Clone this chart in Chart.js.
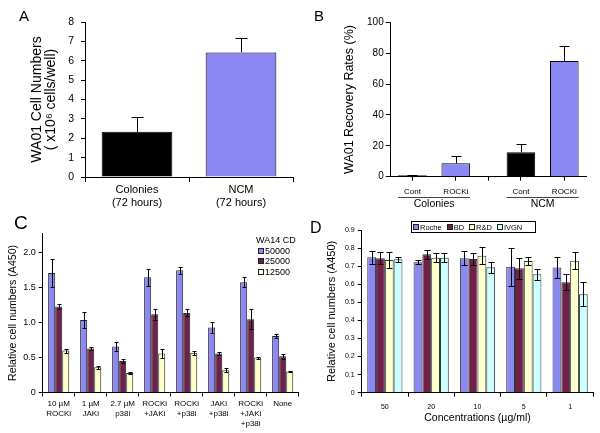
<!DOCTYPE html>
<html>
<head>
<meta charset="utf-8">
<script src="https://cdn.jsdelivr.net/npm/chart.js@4.4.1/dist/chart.umd.min.js"></script>
<style>
  body { margin: 0; background: #fff; }
  #fig { position: relative; width: 600px; height: 433px; overflow: hidden; font-family: 'Liberation Sans', Arial, sans-serif; color: #000; }
  canvas { position: absolute; }
  .letra { position: absolute; line-height: 1; }
  #legenda-c { position: absolute; left: 256px; top: 235px; font-size: 9px; line-height: 10.5px; }
  #legenda-c .item { display: flex; align-items: center; padding-left: 2px; }
  #legenda-d { position: absolute; left: 411px; top: 221px; width: 122px; height: 10px; border: 1px solid #000;
               font-size: 7.5px; display: flex; align-items: center; padding-left: 1px; }
  #legenda-d .item { display: flex; align-items: center; margin-right: 5px; }
  .caixa { display: inline-block; width: 4px; height: 4px; border: 1px solid #222; margin-right: 1px; }
</style>
</head>
<body>
<div id="fig">
  <canvas id="grafico-a" width="300" height="215" style="left:0;top:0"></canvas>
  <canvas id="grafico-b" width="300" height="215" style="left:300px;top:0"></canvas>
  <canvas id="grafico-c" width="300" height="218" style="left:0;top:215px"></canvas>
  <canvas id="grafico-d" width="300" height="218" style="left:300px;top:215px"></canvas>
  <div class="letra" style="left:19px;top:8px;font-size:15px">A</div>
  <div class="letra" style="left:314px;top:8px;font-size:15px">B</div>
  <div class="letra" style="left:14px;top:213px;font-size:19px">C</div>
  <div class="letra" style="left:310px;top:220px;font-size:16px">D</div>
  <div id="legenda-c"><div>WA14 CD</div></div>
  <div id="legenda-d"></div>
</div>
<script>
// ---- dados ----
const aCategorias = [["Colonies", "(72 hours)"], ["NCM", "(72 hours)"]];
const aValores = [2.33, 6.43];
const aErros = [0.75, 0.76];

const bTratamentos = ["Cont", "ROCKi", "Cont", "ROCKi"];
const bGrupos = ["Colonies", "Colonies", "NCM", "NCM"];
const bValores = [0.9, 8.7, 15.8, 74.9];
const bErros = [0.4, 4.7, 5.2, 9.9];

const cTratamentos = [["10 µM", "ROCKi"], ["1 µM", "JAKi"], ["2.7 µM", "p38i"], ["ROCKi", "+JAKi"],
                      ["ROCKi", "+p38i"], ["JAKi", "+p38i"], ["ROCKi", "+JAKi", "+p38i"], ["None"]];
const c50000 = [1.71, 1.04, 0.66, 1.65, 1.75, 0.93, 1.58, 0.81];
const c50000Erro = [0.2, 0.12, 0.06, 0.12, 0.05, 0.08, 0.07, 0.03];
const c25000 = [1.23, 0.63, 0.45, 1.12, 1.14, 0.56, 1.05, 0.52];
const c25000Erro = [0.04, 0.025, 0.03, 0.08, 0.05, 0.02, 0.14, 0.035];
const c12500 = [0.6, 0.36, 0.28, 0.56, 0.57, 0.32, 0.5, 0.3];
const c12500Erro = [0.03, 0.025, 0.01, 0.06, 0.03, 0.03, 0.015, 0.01];

const dConcentracoes = ["50", "20", "10", "5", "1"];
const dRoche = [0.749, 0.722, 0.744, 0.697, 0.692];
const dRocheErro = [0.037, 0.012, 0.04, 0.105, 0.057];
const dBD = [0.744, 0.766, 0.74, 0.688, 0.611];
const dBDErro = [0.033, 0.024, 0.032, 0.059, 0.044];
const dRD = [0.734, 0.747, 0.758, 0.729, 0.73];
const dRDErro = [0.046, 0.024, 0.047, 0.024, 0.047];
const dIVGN = [0.738, 0.747, 0.694, 0.655, 0.545];
const dIVGNErro = [0.015, 0.024, 0.031, 0.031, 0.066];

// ---- estilo ----
const azul = "#8b87f3";
const vinho = "#71204a";
const creme = "#ffffcc";
const ciano = "#ccffff";
const fonte = "'Liberation Sans', Arial, sans-serif";

Chart.defaults.font.family = fonte;
Chart.defaults.color = "#000";
Chart.defaults.animation = false;
Chart.defaults.responsive = false;
Chart.defaults.plugins.legend.display = false;
Chart.defaults.plugins.tooltip.enabled = false;

// barras de erro desenhadas sobre as barras, pela escala y
const errorBars = {
  id: "errorBars",
  afterDatasetsDraw(chart, args, opts) {
    const ctx = chart.ctx;
    const y = chart.scales.y;
    ctx.save();
    ctx.strokeStyle = "#000";
    ctx.lineWidth = 1;
    chart.data.datasets.forEach((ds, i) => {
      if (!ds.errors) return;
      chart.getDatasetMeta(i).data.forEach((bar, j) => {
        const v = typeof ds.data[j] === "object" ? ds.data[j].y : ds.data[j];
        const x = Math.round(bar.x) + 0.5;
        const top = Math.round(y.getPixelForValue(v + ds.errors[j])) + 0.5;
        const bottom = opts.upOnly ? bar.y : Math.round(y.getPixelForValue(v - ds.errors[j])) + 0.5;
        const h = opts.cap / 2;
        ctx.beginPath();
        ctx.moveTo(x, bottom);
        ctx.lineTo(x, top);
        ctx.moveTo(x - h, top);
        ctx.lineTo(x + h, top);
        if (!opts.upOnly) {
          ctx.moveTo(x - h, bottom);
          ctx.lineTo(x + h, bottom);
        }
        ctx.stroke();
      });
    });
    ctx.restore();
  },
};

const eixo = { drawOnChartArea: false, tickLength: 4, color: "#000" };

// ---- A ----
new Chart(document.getElementById("grafico-a"), {
  type: "bar",
  data: {
    labels: aCategorias,
    datasets: [{
      data: aValores,
      errors: aErros,
      backgroundColor: ["#000", azul],
      borderColor: "#000",
      borderWidth: 1,
      categoryPercentage: 1,
      barPercentage: 0.68,
    }],
  },
  options: {
    layout: { padding: { top: 22, right: 7, left: 0, bottom: 0 } },
    plugins: { errorBars: { cap: 12, upOnly: true } },
    scales: {
      x: {
        grid: { ...eixo, tickLength: 5, offset: true },
        border: { color: "#000" },
        ticks: { font: { size: 11, lineHeight: 1.2 }, padding: 1, maxRotation: 0, autoSkip: false },
        afterFit: (s) => { s.height = 38; },
      },
      y: {
        min: 0, max: 8,
        ticks: { stepSize: 1, font: { size: 10.5 }, padding: 7 },
        grid: eixo,
        border: { color: "#000" },
        title: { display: true, text: ["WA01 Cell Numbers", "( x10⁶ cells/well)"], font: { size: 14, lineHeight: 1 }, padding: { top: 30 } },
        afterFit: (s) => { s.width = 85; },
      },
    },
  },
  plugins: [errorBars],
});

// ---- B ----
// meia posição de espaço entre os dois grupos
const bPosicao = (i) => i + 0.5 + (i >= 2 ? 0.5 : 0);
const bNomesGrupo = [...new Set(bGrupos)];
const bLimites = [0, 1, 2, 2.5, 3.5, 4.5];

// rótulos de tratamento sob cada barra, linha e nome de cada grupo
const rotulosB = {
  id: "rotulosB",
  afterDraw(chart) {
    const ctx = chart.ctx;
    const meta = chart.getDatasetMeta(0);
    const base = chart.chartArea.bottom;
    ctx.save();
    ctx.fillStyle = "#000";
    ctx.textAlign = "center";
    ctx.textBaseline = "middle";
    ctx.font = "8px " + fonte;
    meta.data.forEach((bar, i) => ctx.fillText(bTratamentos[i], bar.x, base + 15));
    ctx.strokeStyle = "#444";
    ctx.lineWidth = 1;
    ctx.font = "10.5px " + fonte;
    const yLinha = Math.round(base + 20) + 0.5;
    bNomesGrupo.forEach((g) => {
      const barras = meta.data.filter((b, i) => bGrupos[i] === g);
      const esq = Math.min(...barras.map((b) => b.x - b.width / 2));
      const dir = Math.max(...barras.map((b) => b.x + b.width / 2));
      ctx.beginPath();
      ctx.moveTo(esq, yLinha);
      ctx.lineTo(dir, yLinha);
      ctx.stroke();
      ctx.fillText(g, (esq + dir) / 2, base + 27.5);
    });
    ctx.restore();
  },
};

new Chart(document.getElementById("grafico-b"), {
  type: "bar",
  data: {
    datasets: [{
      xAxisID: "x",
      yAxisID: "y",
      data: bValores.map((v, i) => ({ x: bPosicao(i), y: v })),
      errors: bErros,
      backgroundColor: ["#000", azul, "#000", azul],
      borderColor: "#000",
      borderWidth: 1,
      categoryPercentage: 1,
      barPercentage: 0.66,
    }],
  },
  options: {
    layout: { padding: { top: 22.3, right: 14, left: 0, bottom: 0 } },
    plugins: { errorBars: { cap: 10, upOnly: true } },
    scales: {
      x: {
        type: "linear", position: "bottom", min: 0, max: 4.5, offset: false, display: false,
      },
      xt: {
        type: "linear", position: "bottom", min: 0, max: 4.5, offset: false,
        grid: eixo,
        border: { color: "#000" },
        ticks: { display: false },
        afterBuildTicks: (s) => { s.ticks = bLimites.map((value) => ({ value })); },
        afterFit: (s) => { s.height = 38.3; },
      },
      y: {
        min: 0, max: 100,
        ticks: { stepSize: 20, font: { size: 10 }, padding: 2 },
        grid: { ...eixo, tickLength: 5 },
        border: { color: "#000" },
        title: { display: true, text: "WA01 Recovery Rates (%)", font: { size: 12.5, lineHeight: 1.2 }, padding: { top: 42.5 } },
        afterFit: (s) => { s.width = 90.7; },
      },
    },
  },
  plugins: [errorBars, rotulosB],
});

// ---- C ----
const graficoC = new Chart(document.getElementById("grafico-c"), {
  type: "bar",
  data: {
    labels: cTratamentos,
    datasets: [
      { label: "50000", data: c50000, errors: c50000Erro, backgroundColor: azul },
      { label: "25000", data: c25000, errors: c25000Erro, backgroundColor: vinho },
      { label: "12500", data: c12500, errors: c12500Erro, backgroundColor: creme },
    ],
  },
  options: {
    datasets: { bar: { categoryPercentage: 0.66, barPercentage: 1, borderWidth: 1, borderColor: "#222" } },
    layout: { padding: { top: 18.3, right: 1.3, left: 0, bottom: 0 } },
    plugins: { errorBars: { cap: 4 } },
    scales: {
      x: {
        grid: { ...eixo, offset: true },
        border: { color: "#000" },
        ticks: { font: { size: 8, lineHeight: 1.25 }, padding: 2.5, maxRotation: 0, autoSkip: false },
        afterFit: (s) => { s.height = 40.5; },
      },
      y: {
        min: 0, max: 2.28,
        ticks: { stepSize: 0.5, includeBounds: false, font: { size: 9 }, padding: 3 },
        grid: eixo,
        border: { color: "#000" },
        title: { display: true, text: "Relative cell numbers (A450)", font: { size: 10.6, lineHeight: 1.2 }, padding: { top: 7 } },
        afterFit: (s) => { s.width = 42.7; },
      },
    },
  },
  plugins: [errorBars],
});

// ---- D ----
const graficoD = new Chart(document.getElementById("grafico-d"), {
  type: "bar",
  data: {
    labels: dConcentracoes,
    datasets: [
      { label: "Roche", data: dRoche, errors: dRocheErro, backgroundColor: azul },
      { label: "BD", data: dBD, errors: dBDErro, backgroundColor: vinho },
      { label: "R&D", data: dRD, errors: dRDErro, backgroundColor: creme },
      { label: "IVGN", data: dIVGN, errors: dIVGNErro, backgroundColor: ciano },
    ],
  },
  options: {
    datasets: { bar: { categoryPercentage: 0.76, barPercentage: 1, borderWidth: 1, borderColor: "#333" } },
    layout: { padding: { top: 15, right: 6.7, left: 0, bottom: 0 } },
    plugins: { errorBars: { cap: 6 } },
    scales: {
      x: {
        grid: { ...eixo, offset: true },
        border: { color: "#000" },
        ticks: { font: { size: 7 }, padding: 6, maxRotation: 0, autoSkip: false },
        title: { display: true, text: "Concentrations (µg/ml)", font: { size: 10.5, lineHeight: 1.2 }, padding: { bottom: 9, top: 0 } },
        afterFit: (s) => { s.height = 40.3; },
      },
      y: {
        min: 0, max: 0.9,
        ticks: { stepSize: 0.1, font: { size: 7 }, padding: 3 },
        grid: eixo,
        border: { color: "#000" },
        title: { display: true, text: "Relative cell numbers (A450)", font: { size: 11, lineHeight: 1.2 }, padding: { top: 25 } },
        afterFit: (s) => { s.width = 61.7; },
      },
    },
  },
  plugins: [errorBars],
});

// ---- legendas em HTML a partir dos datasets ----
function legenda(chart, el) {
  chart.data.datasets.forEach((ds) => {
    const item = document.createElement("div");
    item.className = "item";
    const caixa = document.createElement("span");
    caixa.className = "caixa";
    caixa.style.background = ds.backgroundColor;
    item.appendChild(caixa);
    item.appendChild(document.createTextNode(ds.label));
    el.appendChild(item);
  });
}
legenda(graficoC, document.getElementById("legenda-c"));
legenda(graficoD, document.getElementById("legenda-d"));
</script>
</body>
</html>
